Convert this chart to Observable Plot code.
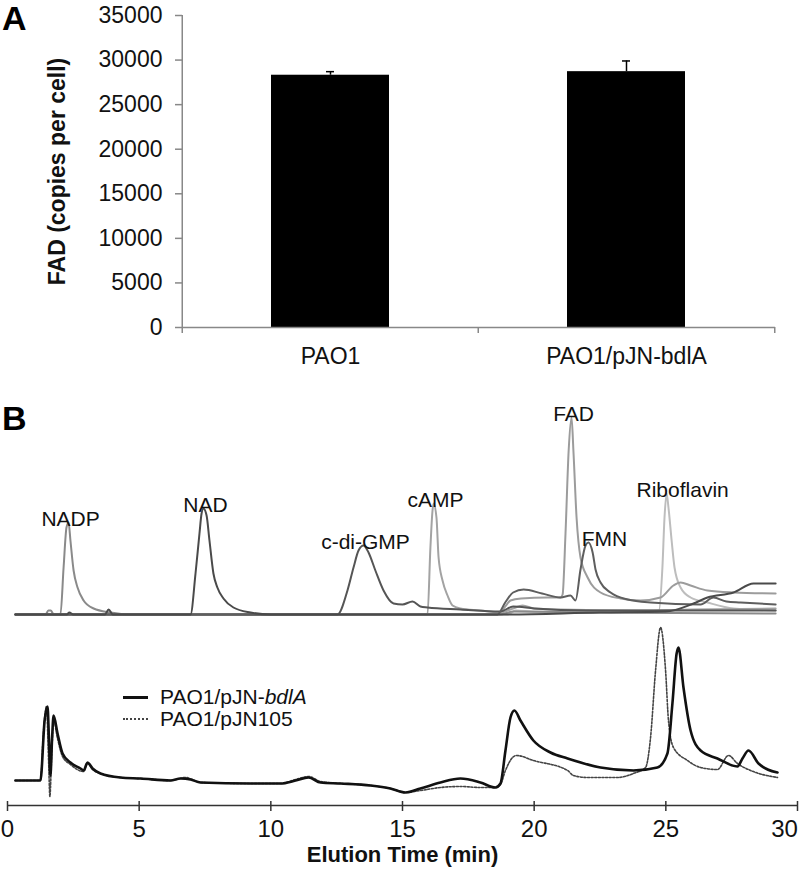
<!DOCTYPE html>
<html><head><meta charset="utf-8">
<script src="https://cdn.jsdelivr.net/npm/d3@7"></script>
<script src="https://cdn.jsdelivr.net/npm/@observablehq/plot@0.6"></script>
<style>
body{margin:0;background:#fff;}
#root{position:relative;width:800px;height:870px;overflow:hidden;font-family:"Liberation Sans",Arial,Helvetica,sans-serif;background:#fff;}
#root svg{position:absolute;left:0;overflow:visible;}
.panel{position:absolute;left:2px;font-weight:bold;line-height:1.1;color:#000;}
.leg{position:absolute;left:123px;height:24px;display:flex;align-items:center;font-size:21px;color:#111;line-height:24px;}
.leg .sw{width:25px;height:0;margin-right:12px;}
</style></head><body><div id="root"></div>
<script>
// ---------- Panel A data ----------
const strains = ["PAO1", "PAO1/pJN-bdlA"];
const fadCopies = [28300, 28700];
const fadSD = [400, 1200];
const fadTicks = [0, 5000, 10000, 15000, 20000, 25000, 30000, 35000];

// ---------- Panel B data: standards (time min, signal) ----------
const stdNADP = [[0.3,0],[1.45,0],[1.55,4],[1.65,4],[1.75,0],[2.01,0],[2.13,47],[2.24,87],[2.32,92],[2.39,74],[2.51,44],[2.66,27],[2.89,14],[3.27,6],[3.91,2],[4.67,0],[12,0],[18.7,0],[19.2,3],[22,2],[29.17,1]];
const stdNAD = [[0.3,0],[2.25,0],[2.35,2],[2.5,0],[3.7,0],[3.84,5],[4.0,0],[6.95,0],[7.14,41],[7.29,81],[7.37,101],[7.44,106],[7.56,99],[7.67,74],[7.82,41],[7.97,27],[8.2,16],[8.58,7],[9.23,2],[10,0],[18.7,0],[22.5,2],[25,3],[26.05,11],[26.58,17],[27.57,22],[28.33,31],[29.17,31]];
const stdCdiGMP = [[0.3,0],[12.53,0],[12.91,24],[13.14,47],[13.33,64],[13.52,69],[13.71,62],[13.97,44],[14.28,24],[14.66,11],[15.0,10],[15.38,13],[15.68,8],[15.95,7],[17.2,5],[18.72,3],[19.2,8],[20,6],[22,4],[25,4],[29.17,4]];
const stdCAMP = [[0.3,0],[15.95,0],[16.06,67],[16.14,104],[16.18,111],[16.29,97],[16.37,57],[16.52,34],[16.71,19],[16.9,9],[17.2,6],[17.96,4],[18.72,2],[19.2,6],[19.56,9],[20,6],[21,5],[24,4],[26,5],[29.17,6]];
const stdFAD = [[0.3,0],[18.6,0],[18.9,8],[19.1,14],[19.5,16],[20.5,17],[21.0,17],[21.08,20],[21.19,81],[21.31,164],[21.42,197],[21.49,164],[21.61,97],[21.76,57],[22.03,37],[22.52,22],[23.28,16],[24.04,14],[24.8,17],[25.29,29],[25.56,32],[25.94,29],[26.58,24],[27.57,22],[29.17,21]];
const stdFMN = [[0.3,0],[18.6,0],[18.9,12],[19.2,22],[19.6,25],[20.3,21],[21.0,17],[21.38,19],[21.57,14],[21.76,45],[21.95,69],[22.06,72],[22.22,62],[22.33,45],[22.52,32],[22.9,22],[23.55,15],[24.42,12],[26.32,10],[26.81,17],[27.3,13],[27.84,12],[29.17,10]];
const stdRiboflavin = [[0.3,0],[19,0],[19.3,4],[20,3],[24.72,2],[24.87,47],[24.95,97],[25.03,121],[25.1,107],[25.22,74],[25.33,47],[25.56,27],[25.94,17],[26.58,12],[27.57,6],[29.17,4]];

// ---------- Panel B data: samples ----------
const smpBdlA = [[0.30,10],[1.25,10],[1.41,70],[1.52,84],[1.57,55],[1.63,15],[1.69,50],[1.75,75],[1.90,57],[2.09,37],[2.39,28],[2.77,22],[2.89,20],[3.04,28],[3.23,22],[3.53,17],[4.29,13],[5.05,12],[6.19,10],[6.57,12],[6.95,11],[7.33,8],[9.23,7],[10.37,7],[10.94,10],[11.43,13],[11.89,8],[12.65,7],[13.79,5],[14.54,2],[15.11,-2],[15.68,2],[16.44,8],[17.20,12],[17.96,8],[18.53,3],[18.72,7],[18.91,40],[19.10,73],[19.25,80],[19.48,70],[19.97,50],[20.62,38],[21.27,32],[22.52,23],[23.77,20],[24.68,23],[25.06,37],[25.25,87],[25.41,137],[25.48,143],[25.67,103],[25.94,60],[26.32,40],[26.96,32],[27.72,24],[27.91,32],[28.14,40],[28.52,27],[29.24,18]];
const smpPJN105 = [[0.30,10],[1.25,10],[1.37,60],[1.48,84],[1.56,30],[1.61,-6],[1.67,30],[1.75,70],[1.90,52],[2.09,34],[2.39,26],[2.89,19],[3.04,27],[3.23,21],[3.53,17],[4.29,13],[5.05,12],[6.19,10],[6.76,13],[7.33,8],[9.23,7],[10.37,7],[10.94,11],[11.43,14],[11.89,9],[12.65,7],[13.79,5],[14.54,2],[15.11,-2],[15.68,0],[16.44,3],[17.20,4],[17.96,3],[18.53,3],[18.72,6],[18.91,20],[19.18,33],[19.33,35],[19.97,30],[21.27,20],[21.49,15],[22.03,13],[23.16,13],[23.77,17],[24.23,23],[24.42,53],[24.61,120],[24.80,163],[24.99,120],[25.10,70],[25.29,43],[25.82,30],[26.32,23],[26.96,21],[27.38,35],[27.72,27],[28.22,20],[29.24,13]];
const timeTicks = [0, 5, 10, 15, 20, 25, 30];
const sampleNames = ["PAO1/pJN-bdlA", "PAO1/pJN105"];

// ---------- styling ----------
const FONT = '"Liberation Sans", Arial, Helvetica, sans-serif';
const standards = [
  {name: "Riboflavin", pts: stdRiboflavin},
  {name: "cAMP", pts: stdCAMP},
  {name: "FAD", pts: stdFAD},
  {name: "NADP", pts: stdNADP},
  {name: "c-di-GMP", pts: stdCdiGMP},
  {name: "FMN", pts: stdFMN},
  {name: "NAD", pts: stdNAD}
];
const stdColor = {"NADP": "#8a8a8a", "NAD": "#4a4a4a", "c-di-GMP": "#555555", "cAMP": "#a3a3a3", "FAD": "#9c9c9c", "FMN": "#5e5e5e", "Riboflavin": "#bdbdbd"};
const shiftedLabels = new Set(["FMN", "Riboflavin"]);

const root = document.getElementById("root");

// ---------- Panel A ----------
const barData = strains.map((s, i) => ({strain: s, fad: fadCopies[i], sd: fadSD[i]}));
const mLA = 182, mRA = 25;
const stepA = (800 - mLA - mRA) / strains.length;
const plotA = Plot.plot({
  width: 800, height: 375,
  marginLeft: mLA, marginRight: mRA, marginTop: 15, marginBottom: 48,
  style: {fontFamily: FONT, background: "transparent", overflow: "visible"},
  x: {domain: strains, paddingInner: 0.6, paddingOuter: 0.3, axis: null},
  y: {domain: [0, 35000], axis: null},
  marks: [
    Plot.barY(barData, {x: "strain", y: "fad", fill: "#000"}),
    Plot.ruleX(barData, {x: "strain", y1: "fad", y2: d => d.fad + d.sd, stroke: "#000", strokeWidth: 1.5}),
    Plot.tickY(barData, {x: "strain", y: d => d.fad + d.sd, stroke: "#000", strokeWidth: 1.5, insetLeft: 55, insetRight: 55}),
    Plot.ruleY([0], {stroke: "#888", strokeWidth: 1.5}),
    Plot.ruleX([strains[0]], {x: d => d, dx: -stepA / 2, y1: 0, y2: 35000, stroke: "#888", strokeWidth: 1.5}),
    Plot.axisY({ticks: fadTicks, label: null, tickSize: 7, tickPadding: 13, tickFormat: d => String(d), fontSize: 23, stroke: "#888", strokeWidth: 1.5, fill: "#111"}),
    Plot.axisX({ticks: strains, label: null, tickSize: 6, tickFormat: () => "", dx: -stepA / 2, stroke: "#888", strokeWidth: 1.5}),
    Plot.axisX({ticks: [strains[strains.length - 1]], label: null, tickSize: 6, tickFormat: () => "", dx: stepA / 2, stroke: "#888", strokeWidth: 1.5}),
    Plot.axisX({ticks: strains, label: null, tickSize: 0, tickPadding: 20, fontSize: 23, fill: "#111"}),
    Plot.text(["FAD (copies per cell)"], {frameAnchor: "left", textAnchor: "middle", dx: -125, rotate: -90, fontSize: 23, fontWeight: "bold", fill: "#111"})
  ]
});
plotA.style.top = "0px";
root.appendChild(plotA);

// ---------- Panel B, standards ----------
const peaks = standards.map(s => {
  const p = s.pts.reduce((a, b) => (b[1] > a[1] ? b : a));
  return {name: s.name, t: p[0], v: p[1]};
});
const plotB1 = Plot.plot({
  width: 800, height: 245,
  marginLeft: 7, marginRight: 3, marginTop: 0, marginBottom: 0,
  style: {fontFamily: FONT, background: "transparent", overflow: "visible"},
  x: {domain: [0, 30], axis: null},
  y: {domain: [0, 197], range: [239, 42], axis: null},
  marks: [
    ...standards.map(s => Plot.line(s.pts, {x: d => d[0], y: d => d[1], stroke: stdColor[s.name], strokeWidth: 2, curve: "monotone-x"})),
    Plot.text(peaks.filter(p => !shiftedLabels.has(p.name)), {x: "t", y: "v", text: "name", lineAnchor: "bottom", dx: 2, dy: 3, fontSize: 21, fill: "#111"}),
    Plot.text(peaks.filter(p => shiftedLabels.has(p.name)), {x: "t", y: "v", text: "name", lineAnchor: "bottom", dx: 16, dy: 3, fontSize: 21, fill: "#111"})
  ]
});
plotB1.style.top = "375px";
root.appendChild(plotB1);

// ---------- Panel B, samples ----------
const lastTick = timeTicks[timeTicks.length - 1];
const plotB2 = Plot.plot({
  width: 800, height: 250,
  marginLeft: 7, marginRight: 3, marginTop: 0, marginBottom: 65,
  style: {fontFamily: FONT, background: "transparent", overflow: "visible"},
  x: {domain: [0, 30], axis: null},
  y: {domain: [-15, 170], axis: null},
  marks: [
    Plot.line(smpPJN105, {x: d => d[0], y: d => d[1], stroke: "#444", strokeWidth: 1.6, strokeDasharray: "2,1.6", curve: "monotone-x"}),
    Plot.line(smpBdlA, {x: d => d[0], y: d => d[1], stroke: "#111", strokeWidth: 2.6, curve: "monotone-x"}),
    Plot.ruleY([-15], {stroke: "#333", strokeWidth: 1.5}),
    Plot.axisX({ticks: timeTicks, label: null, tickSize: 10, dy: -4, tickFormat: () => "", stroke: "#333", strokeWidth: 1.5}),
    Plot.axisX({ticks: timeTicks.filter(t => t !== lastTick), label: null, tickSize: 0, tickPadding: 14, fontSize: 24, fill: "#111"}),
    Plot.axisX({ticks: [lastTick], label: null, tickSize: 0, tickPadding: 14, fontSize: 24, fill: "#111", dx: -13}),
    Plot.text(["Elution Time (min)"], {frameAnchor: "bottom", dy: 56, fontSize: 22, fontWeight: "bold", fill: "#111"})
  ]
});
plotB2.style.top = "620px";
root.appendChild(plotB2);

// ---------- labels & legend ----------
function addDiv(cls, html, css) {
  const d = document.createElement("div");
  d.className = cls; d.innerHTML = html;
  Object.assign(d.style, css);
  root.appendChild(d);
}
addDiv("panel", "A", {top: "0px", fontSize: "34px"});
addDiv("panel", "B", {top: "400px", fontSize: "34px"});
addDiv("leg", '<span class="sw" style="border-top:3px solid #111"></span><span>PAO1/pJN-<i>bdlA</i></span>', {top: "685px"});
addDiv("leg", '<span class="sw" style="border-top:2px dotted #444"></span><span>' + sampleNames[1] + '</span>', {top: "707px"});
</script></body></html>
